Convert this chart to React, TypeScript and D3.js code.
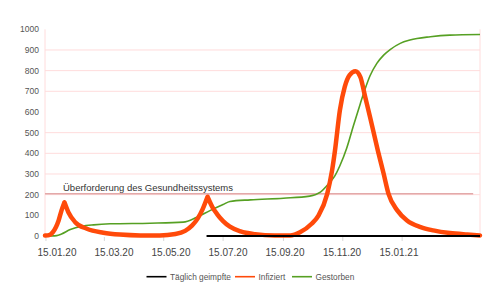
import React from "react";
import * as d3 from "d3";

// ---- data ----
const yTicks = [0, 100, 200, 300, 400, 500, 600, 700, 800, 900, 1000];
const gridValues = [200, 300, 400, 500, 700, 800, 900];
const xTickLabels = ["15.01.20", "15.03.20", "15.05.20", "15.07.20", "15.09.20", "15.11.20", "15.01.21"];
const domainDates = ["14.01.20", "05.04.21"];

const infDates = [
  "14.01.20", "19.01.20", "22.01.20", "28.01.20", "31.01.20", "03.02.20", "07.02.20", "14.02.20",
  "26.02.20", "14.03.20", "31.03.20", "21.04.20", "11.05.20", "27.05.20", "06.06.20", "13.06.20",
  "19.06.20", "24.06.20", "29.06.20", "04.07.20", "09.07.20", "15.07.20", "22.07.20", "02.08.20",
  "17.08.20", "06.09.20", "22.09.20", "02.10.20", "14.10.20", "21.10.20", "30.10.20", "04.11.20",
  "07.11.20", "12.11.20", "17.11.20", "22.11.20", "28.11.20", "03.12.20", "08.12.20", "13.12.20",
  "21.12.20", "27.12.20", "01.01.21", "10.01.21", "20.01.21", "03.02.21", "16.02.21", "05.03.21",
  "23.03.21", "05.04.21",
];
const infValues = [
  2, 6, 18, 75, 124, 163, 115, 67,
  35, 16, 7, 3, 3, 10, 25, 50,
  85, 130, 190, 140, 105, 72, 45, 22,
  9, 3, 3, 18, 59, 99, 204, 317,
  414, 608, 721, 778, 797, 770, 673, 576,
  414, 301, 204, 124, 75, 43, 27, 14,
  7, 3,
];
// sharp peaks of the first two waves
const infCuspDates = ["03.02.20", "29.06.20"];

const deadDates = [
  "14.01.20", "26.01.20", "31.01.20", "09.02.20", "21.02.20", "04.03.20", "21.03.20", "01.05.20",
  "04.06.20", "18.06.20", "02.07.20", "15.07.20", "22.07.20", "12.08.20", "15.09.20", "12.10.20",
  "23.10.20", "31.10.20", "07.11.20", "12.11.20", "19.11.20", "26.11.20", "03.12.20", "08.12.20",
  "13.12.20", "20.12.20", "27.12.20", "03.01.21", "13.01.21", "23.01.21", "13.02.21", "05.03.21",
  "05.04.21",
];
const deadValues = [
  0, 2, 10, 31, 47, 54, 59, 62,
  67, 91, 124, 152, 167, 175, 183, 193,
  212, 250, 292, 340, 425, 535, 640, 712,
  775, 835, 875, 903, 932, 948, 964, 972,
  975,
];

const vaccDates = ["28.06.20", "05.04.21"];
const vaccValues = [0, 0];

const thresholdDates = ["14.01.20", "29.03.21"];
const thresholdValues = [205, 205];
const thresholdLabel = "Überforderung des Gesundheitssystems";

const legendNames = ["Täglich geimpfte", "Infiziert", "Gestorben"];
const legendColors = ["#000000", "#ff4a0a", "#56a023"];

// ---- layout ----
const W = 500;
const H = 290;
const plotLeft = 45;
const plotRight = 480;
const plotTop = 29.3;
const plotBottom = 236;
const font = "'Liberation Sans', Arial, sans-serif";
const legendX = [146.5, 235, 292];
const legendTextGap = 23.5;

const parse = d3.utcParse("%d.%m.%y");

type Pt = { date: Date; v: number };

export default function App() {
  const x = d3
    .scaleUtc()
    .domain(domainDates.map((d) => parse(d) as Date))
    .range([plotLeft, plotRight]);
  const y = d3.scaleLinear().domain([0, 1000]).range([plotBottom, plotTop]);
  const labelX = d3.scalePoint<string>().domain(xTickLabels).range([57, 399]);

  const mk = (dates: string[], values: number[]): Pt[] =>
    dates.map((d, i) => ({ date: parse(d) as Date, v: values[i] }));

  const line = d3
    .line<Pt>()
    .x((d) => x(d.date))
    .y((d) => y(d.v))
    .curve(d3.curveMonotoneX);
  const lineLin = d3
    .line<Pt>()
    .x((d) => x(d.date))
    .y((d) => y(d.v));

  const inf = mk(infDates, infValues);
  const dead = mk(deadDates, deadValues);
  const vacc = mk(vaccDates, vaccValues);
  const thr = mk(thresholdDates, thresholdValues);

  // split infected series at the cusp peaks
  const cuspIdx = infCuspDates.map((c) => infDates.indexOf(c));
  const bounds = [0, ...cuspIdx, inf.length - 1];
  const infSegments: Pt[][] = [];
  for (let i = 0; i < bounds.length - 1; i++) {
    infSegments.push(inf.slice(bounds[i], bounds[i + 1] + 1));
  }
  const infPath = infSegments.map((s) => line(s) || "").join("");

  return (
    <svg width={W} height={H} style={{ display: "block", position: "absolute", left: 0, top: 0 }}>
      <rect x={0} y={0} width={W} height={H} fill="#ffffff" />
      {/* gridlines */}
      {gridValues.map((g) => (
        <line key={g} x1={plotLeft} x2={plotRight} y1={y(g)} y2={y(g)} stroke="#ffdcdc" strokeWidth={1} />
      ))}
      <line x1={plotLeft} x2={plotLeft} y1={plotTop} y2={plotBottom} stroke="#ffdcdc" strokeWidth={1} />
      <line x1={plotRight} x2={plotRight} y1={plotTop} y2={plotBottom} stroke="#ffdcdc" strokeWidth={1} />

      {/* y labels */}
      {yTicks.map((t) => (
        <text
          key={t}
          x={39}
          y={y(t)}
          textAnchor="end"
          dominantBaseline="central"
          fontFamily={font}
          fontSize={8.5}
          fill="#555"
        >
          {t}
        </text>
      ))}

      {/* x ticks */}
      {xTickLabels.map((l) => {
        const xx = x(parse(l) as Date);
        return <line key={"t" + l} x1={xx} x2={xx} y1={237} y2={241} stroke="#d8d8d8" strokeWidth={1} />;
      })}
      {xTickLabels.map((l) => (
        <text
          key={l}
          x={labelX(l)}
          y={256}
          textAnchor="middle"
          fontFamily={font}
          fontSize={10}
          fill="#444"
        >
          {l}
        </text>
      ))}

      {/* threshold */}
      <path d={lineLin(thr) || ""} fill="none" stroke="#e3a9a9" strokeWidth={1.5} />
      <text
        x={x(thr[0].date) + 18}
        y={y(thresholdValues[0]) - 3}
        fontFamily={font}
        fontSize={9.5}
        fill="#333"
      >
        {thresholdLabel}
      </text>

      {/* series */}
      <path d={line(dead) || ""} fill="none" stroke={legendColors[2]} strokeWidth={1.6} />
      <path
        d={infPath}
        fill="none"
        stroke={legendColors[1]}
        strokeWidth={4.5}
        strokeLinejoin="round"
        strokeLinecap="round"
      />
      <path d={lineLin(vacc) || ""} fill="none" stroke={legendColors[0]} strokeWidth={2.2} />

      {/* legend */}
      {legendNames.map((n, i) => (
        <g key={n}>
          <line
            x1={legendX[i]}
            x2={legendX[i] + 20}
            y1={276.7}
            y2={276.7}
            stroke={legendColors[i]}
            strokeWidth={1.6}
          />
          <text
            x={legendX[i] + legendTextGap}
            y={276.7}
            dominantBaseline="central"
            fontFamily={font}
            fontSize={8.3}
            fill="#555"
          >
            {n}
          </text>
        </g>
      ))}
    </svg>
  );
}
